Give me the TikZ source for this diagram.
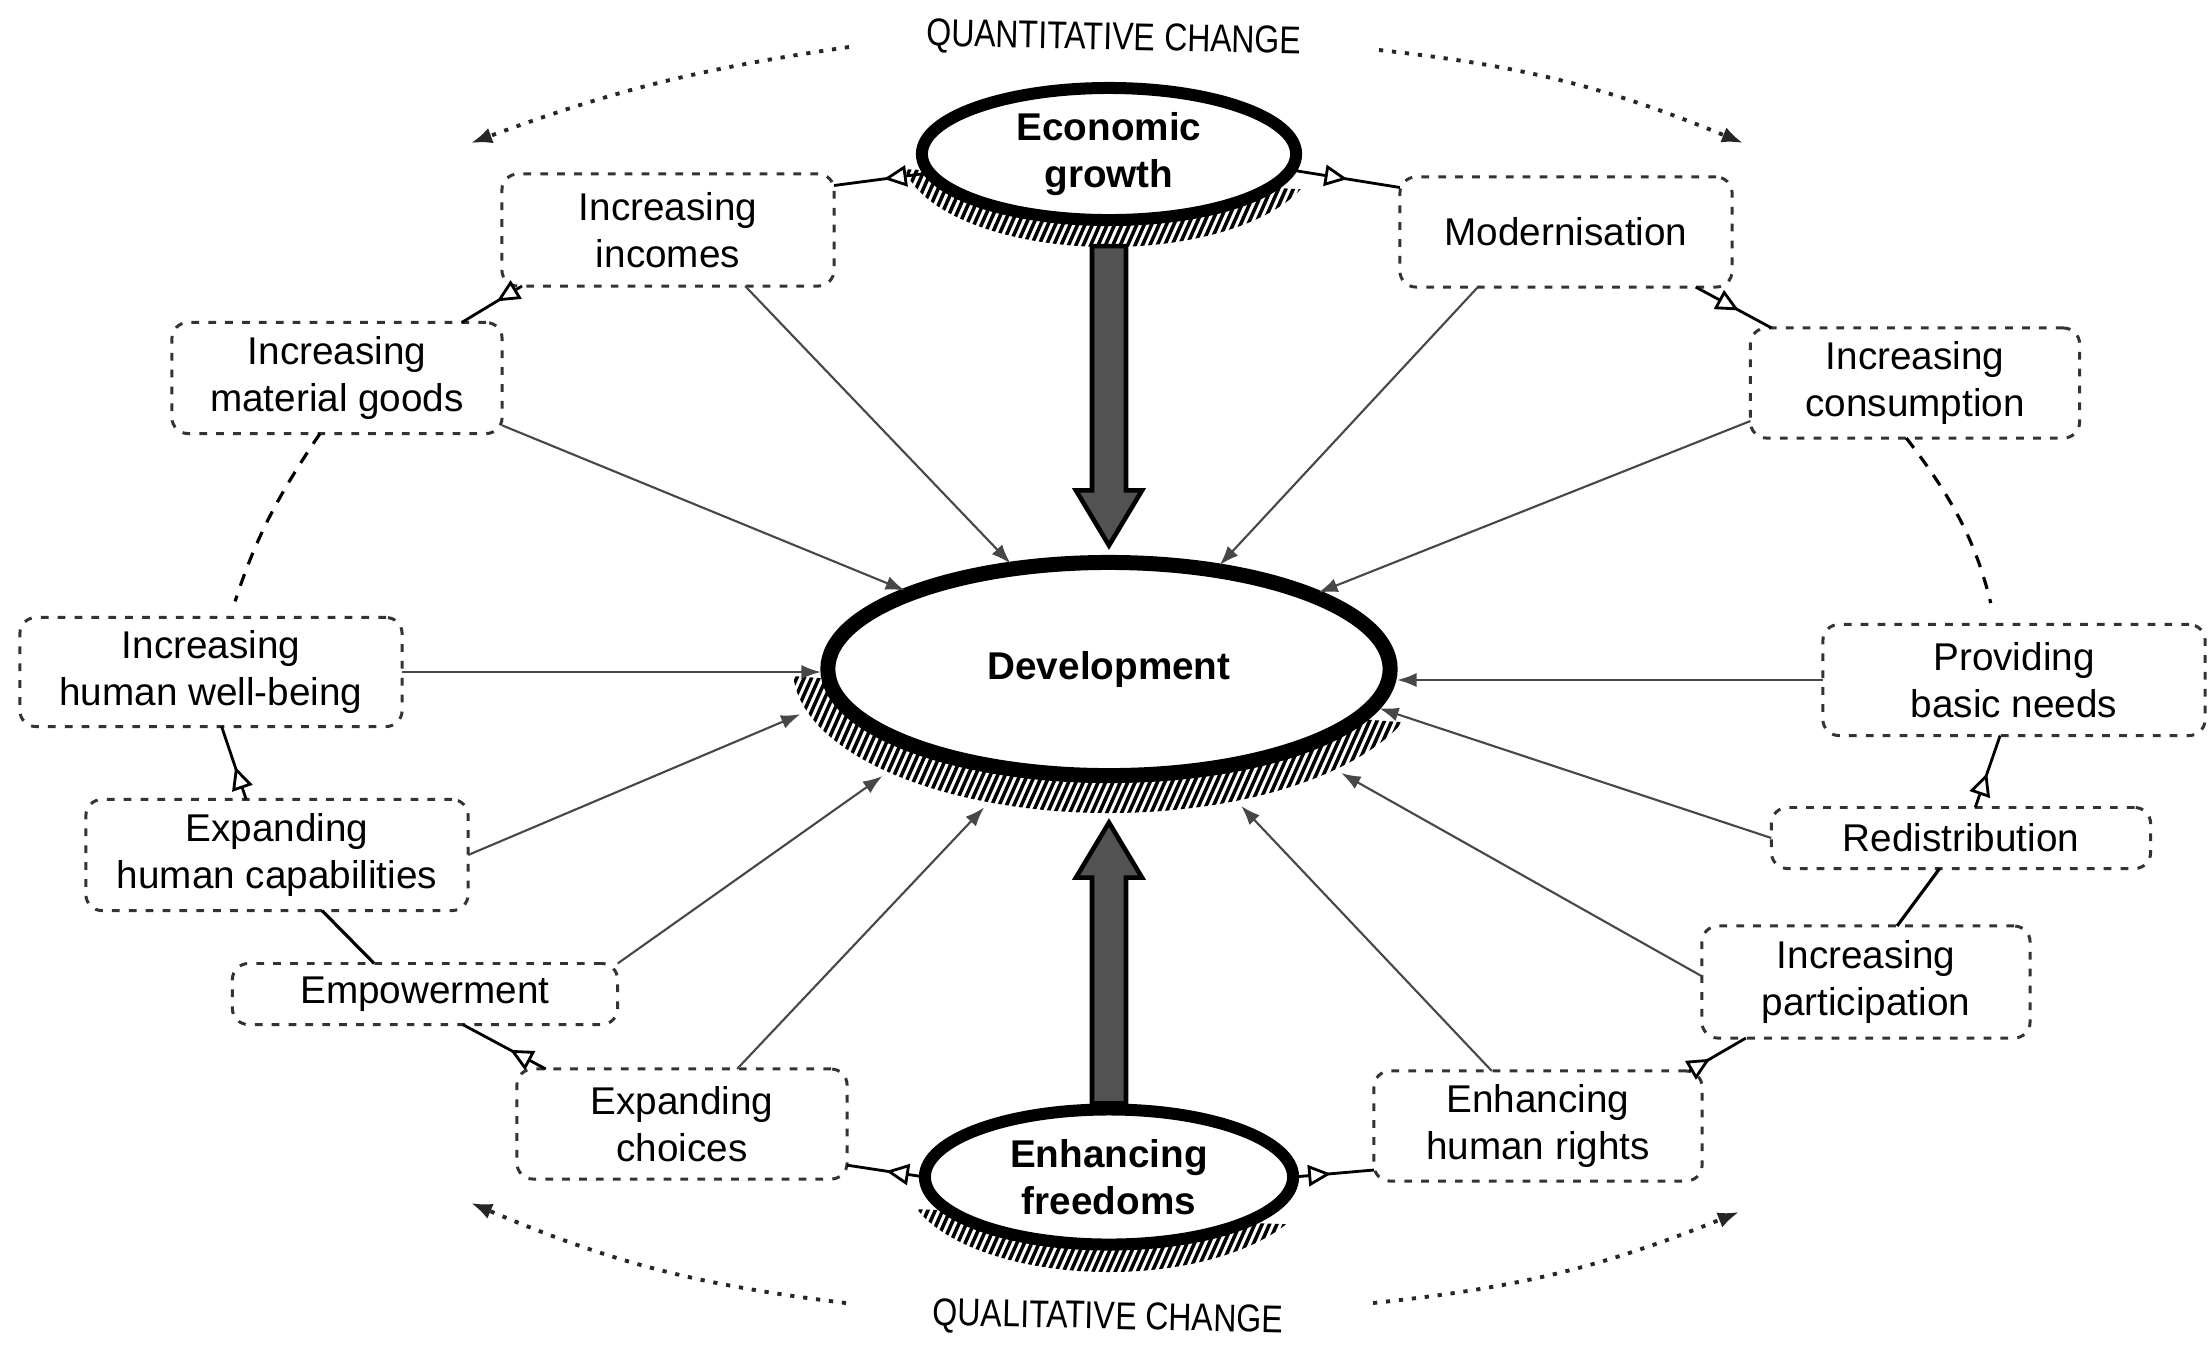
\documentclass[tikz,border=0pt]{standalone}
\usepackage{fontspec}
\setmainfont{Liberation Sans}
\newfontfamily\narrowfont[FakeStretch=0.83]{Liberation Sans}
\usetikzlibrary{arrows.meta,shapes.geometric,calc,decorations.markings,backgrounds}
\newcommand\mybxfont{\fontsize{11}{13.2}\selectfont}
\newcommand\hatchell[6]{%
  \begin{scope}
    \clip (#1-#3-40,#2+#5) -- (#1+#3+40,#2+#6) -- (#1+#3+40,#2+#4+40) -- (#1-#3-40,#2+#4+40) -- cycle;
    \clip (#1,#2) ellipse [x radius=#3, y radius=#4];
    \foreach \k in {0,...,120}{
      \draw[hatchline] (#1-#3-120+\k*7.4,#2+#4+10) -- ++(66:2.6cm);
    }
  \end{scope}}
\begin{document}
\begin{tikzpicture}[x=0.01cm,y=-0.01cm,
 dbox/.style={draw=black!80, fill=white, rounded corners=0.16cm, line width=0.85pt, dash pattern=on 2.2pt off 2.6pt, align=center, inner sep=0pt, outer sep=0pt, font=\mybxfont},
 bigell/.style={ellipse, draw=black, fill=white, align=center, inner sep=0pt, outer sep=0pt, font=\bfseries\mybxfont},
 hatchline/.style={line width=1pt},
 thinarr/.style={draw=black!72, line width=0.6pt, -{Latex[length=5.5pt,width=4pt]}, shorten >=0.07cm},
 midarr/.style={line width=0.8pt, postaction={decorate}, decoration={markings, mark=at position #1 with {\arrow{Triangle[length=6.5pt,width=6pt,fill=white,line width=0.8pt]}}}},
 midarr/.default=0.5,
 plainc/.style={line width=0.9pt},
 dashc/.style={line width=0.9pt, dash pattern=on 3.5pt off 3pt},
 dotarr/.style={draw=black!85, line width=1.1pt, dash pattern=on 1.2pt off 2.5pt, -{Latex[length=6pt,width=4.6pt]}},
 bigarrow/.style={fill=black!68, draw=black, line width=1.3pt, line join=miter},
 chglabel/.style={font=\narrowfont\fontsize{11}{13}\selectfont, rotate=-1.2, inner sep=0pt}
]
\useasboundingbox (0,0) rectangle (2208,1344);

% main ellipses
\node[bigell, line width=0.12cm, minimum width=3.74cm, minimum height=1.32cm] (eg) at (1109,154) {Economic\\growth};
\node[bigell, line width=0.15cm, minimum width=5.62cm, minimum height=2.13cm] (dev) at (1109,669) {Development};
\node[bigell, line width=0.12cm, minimum width=3.68cm, minimum height=1.35cm] (ef) at (1109,1177) {Enhancing\\freedoms};
\node[ellipse, inner sep=0pt, outer sep=0pt, minimum width=6.32cm, minimum height=2.88cm] (devh) at (dev.center) {};

% hatching
\begin{scope}[on background layer]
\hatchell{1109}{154}{207}{93}{13}{38}
\hatchell{1109}{669}{316}{144}{4}{58}
\hatchell{1109}{1177}{204}{95}{30}{50}
\end{scope}

% boxes
\node[dbox, minimum width=3.32cm, minimum height=1.12cm] (inc) at (668,230) {Increasing\\incomes};
\node[dbox, minimum width=3.32cm, minimum height=1.10cm] (mod) at (1566,232) {Modernisation};
\node[dbox, minimum width=3.30cm, minimum height=1.11cm] (mat) at (337,378) {Increasing\\material goods};
\node[dbox, minimum width=3.29cm, minimum height=1.10cm] (con) at (1915,383) {Increasing\\consumption};
\node[dbox, minimum width=3.82cm, minimum height=1.09cm] (wb) at (211,672) {Increasing\\human well-being};
\node[dbox, minimum width=3.82cm, minimum height=1.11cm] (bn) at (2014,680) {Providing\\basic needs};
\node[dbox, minimum width=3.82cm, minimum height=1.11cm] (cap) at (277,855) {Expanding\\human capabilities};
\node[dbox, minimum width=3.79cm, minimum height=0.61cm] (red) at (1961,838) {Redistribution};
\node[dbox, minimum width=3.85cm, minimum height=0.61cm] (emp) at (425,994) {Empowerment};
\node[dbox, minimum width=3.28cm, minimum height=1.12cm] (par) at (1866,982) {Increasing\\participation};
\node[dbox, minimum width=3.30cm, minimum height=1.10cm] (cho) at (682,1124) {Expanding\\choices};
\node[dbox, minimum width=3.28cm, minimum height=1.10cm] (hr) at (1538,1126) {Enhancing\\human rights};

% labels
\node[chglabel] (qt) at (1114,40) {QUANTITATIVE CHANGE};
\node[chglabel] (ql) at (1108,1319) {QUALITATIVE CHANGE};

% dotted change arrows
\coordinate (q1s) at (849,47);  \coordinate (q1e) at (471,143);
\coordinate (q2s) at (1379,50); \coordinate (q2e) at (1743,143);
\coordinate (q3s) at (846,1303); \coordinate (q3e) at (471,1203);
\coordinate (q4s) at (1373,1303); \coordinate (q4e) at (1739,1212);
\draw[dotarr] (q1s) to[bend right=6] (q1e);
\draw[dotarr] (q2s) to[bend left=8] (q2e);
\draw[dotarr] (q3s) to[bend left=8] (q3e);
\draw[dotarr] (q4s) to[bend right=8] (q4e);

% thin arrows to development
\draw[thinarr] (inc.-36) -- (dev.133.5);
\draw[thinarr] (mod.212) -- (dev.43.3);
\draw[thinarr] (mat.-16) -- (dev.159.1);
\draw[thinarr] (con.193.3) -- (dev.20.1);
\draw[thinarr] (wb.east) -- (wb.east -| dev.west);
\draw[thinarr] (bn.west) -- (bn.west -| dev.east);
\draw[thinarr] (cap.east) -- (devh.188.7);
\draw[thinarr] (emp.9.6) -- (devh.205.1);
\draw[thinarr] (cho.45) -- (devh.228.2);
\draw[thinarr] (hr.130) -- (devh.314.1);
\draw[thinarr] (par.178) -- (devh.336.7);
\draw[thinarr] (red.west) -- (dev.352.1);

% cycle connectors
\draw[midarr=0.48] (eg.186.5) -- (inc.15);
\draw[midarr=0.52] (eg.-5.4) -- (mod.165.5);
\draw[midarr=0.42] (inc.201.5) -- (mat.24.3);
\draw[midarr=0.57] (mod.-23.3) -- (con.159.5);
\draw[dashc, shorten >=0.17cm] (mat.-107.5) to[bend right=8] (wb.71.9);
\draw[dashc, shorten >=0.22cm] (con.-99.3) to[bend left=12] (bn.108);
\draw[midarr=0.45] (cap.119.6) -- (wb.-79.5);
\draw[plainc] (emp.149.2) -- (cap.-51.3);
\draw[midarr=0.43] (cho.158.9) -- (emp.-39);
\draw[midarr=0.5] (ef.west) -- (cho.-14.4);
\draw[midarr=0.47] (ef.east) -- (hr.195);
\draw[midarr=0.37] (hr.20.6) -- (par.205.5);
\draw[plainc] (par.61.8) -- (red.235);
\draw[midarr=0.48] (red.65.7) -- (bn.-104);

% big arrows
\draw[bigarrow] ($(eg.south)+(-17,26)$) -- ($(dev.north)+(-17,-72)$) -- ($(dev.north)+(-33,-72)$) -- ($(dev.north)+(0,-17)$) -- ($(dev.north)+(33,-72)$) -- ($(dev.north)+(17,-72)$) -- ($(eg.south)+(17,26)$) -- cycle;
\draw[bigarrow] ($(ef.north)+(-17,-6)$) -- ($(dev.south)+(-17,102)$) -- ($(dev.south)+(-33,102)$) -- ($(dev.south)+(0,47)$) -- ($(dev.south)+(33,102)$) -- ($(dev.south)+(17,102)$) -- ($(ef.north)+(17,-6)$) -- cycle;
\end{tikzpicture}
\end{document}
